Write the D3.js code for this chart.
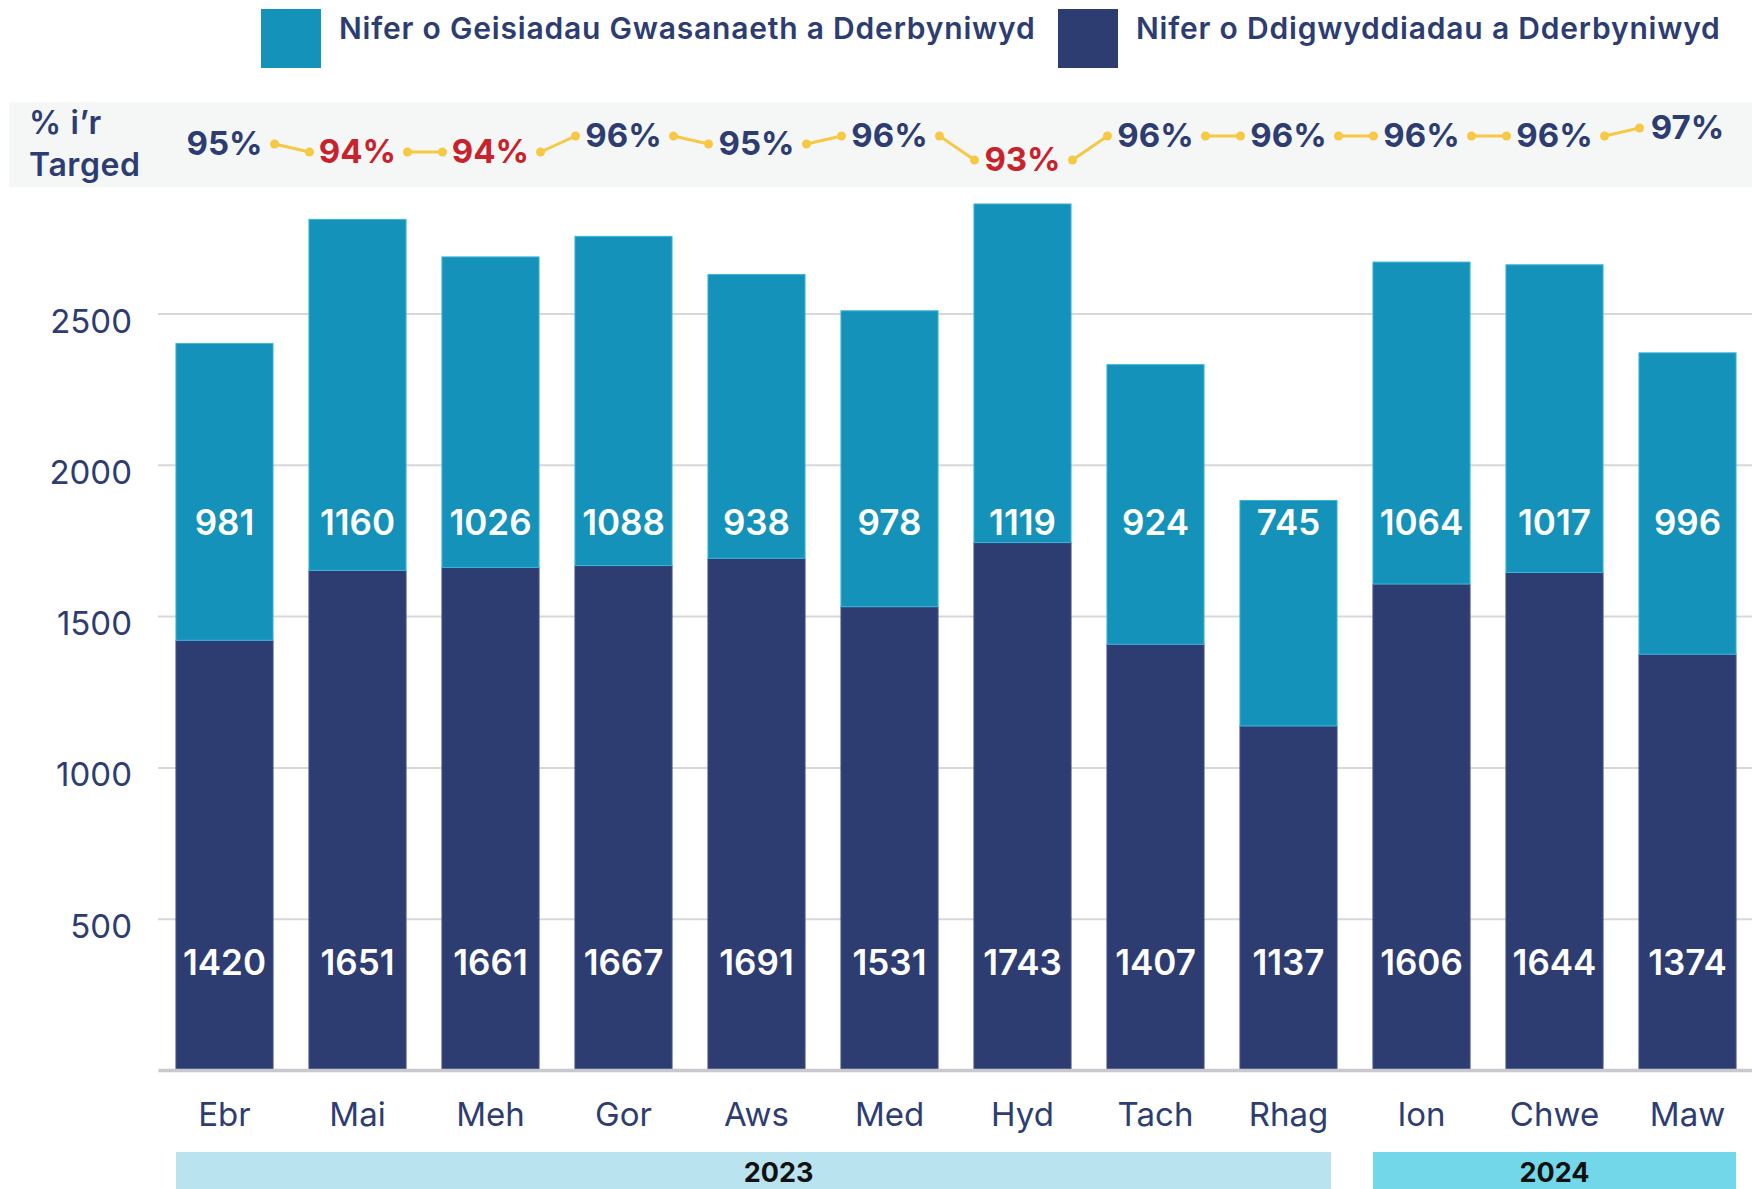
<!DOCTYPE html>
<html>
<head>
<meta charset="utf-8">
<script src="https://cdn.jsdelivr.net/npm/d3@7"></script>
<style>
  html, body { margin: 0; padding: 0; background: #ffffff; }
  svg { display: block; font-family: Inter, "Noto Sans", sans-serif; }
</style>
</head>
<body>
<svg id="chart" width="1752" height="1189"></svg>
<script>
// ---------- data ----------
const months = ["Ebr","Mai","Meh","Gor","Aws","Med","Hyd","Tach","Rhag","Ion","Chwe","Maw"];
const incidents = [1420,1651,1661,1667,1691,1531,1743,1407,1137,1606,1644,1374]; // Nifer o Ddigwyddiadau a Dderbyniwyd
const requests  = [981,1160,1026,1088,938,978,1119,924,745,1064,1017,996];        // Nifer o Geisiadau Gwasanaeth a Dderbyniwyd
const pctTarget = [95,94,94,96,95,96,93,96,96,96,96,97];
const yTicks = [500,1000,1500,2000,2500];
const years = [
  {label:"2023", from:"Ebr", to:"Rhag"},
  {label:"2024", from:"Ion", to:"Maw"}
];
const legendLabels = ["Nifer o Geisiadau Gwasanaeth a Dderbyniwyd","Nifer o Ddigwyddiadau a Dderbyniwyd"];
const pctTitle = ["% i’r","Targed"];

// ---------- style ----------
const NAVY = "#2d3d72";
const TEAL = "#1492b9";
const RED = "#c8232c";
const YELLOW = "#f6c843";

const svg = d3.select("#chart");

const x = d3.scaleBand().domain(months).range([158, 1754]).paddingInner(0.27).paddingOuter(0.135);
const y = d3.scaleLinear().domain([0, 2500]).range([1070, 313.5]);
const yPct = d3.scaleLinear().domain([93, 97]).range([159, 127]);

// ---------- legend ----------
const legendPos = [{rx:261, tx:339, c:TEAL}, {rx:1058, tx:1136, c:NAVY}];
legendLabels.forEach((lab, i) => {
  const p = legendPos[i];
  svg.append("rect").attr("x", p.rx).attr("y", 9).attr("width", 60).attr("height", 59).attr("fill", p.c);
  svg.append("text").attr("x", p.tx).attr("y", 39).attr("fill", NAVY)
    .attr("font-size", 30).attr("font-weight", 600).attr("letter-spacing", 0.8).text(lab);
});

// ---------- target band ----------
svg.append("rect").attr("x", 9).attr("y", 102).attr("width", 1743).attr("height", 85).attr("fill", "#f5f7f7");
svg.append("text").attr("x", 29).attr("y", 134).attr("fill", NAVY).attr("font-size", 32).attr("font-weight", 600).attr("letter-spacing", 0.6).text(pctTitle[0]);
svg.append("text").attr("x", 29).attr("y", 176).attr("fill", NAVY).attr("font-size", 32).attr("font-weight", 600).attr("letter-spacing", 0.6).text(pctTitle[1]);

// ---------- gridlines + y axis ----------
const yAxis = d3.axisLeft(y).tickValues(yTicks).tickFormat(d3.format("d")).tickSize(-(1752 - 158)).tickPadding(26);
const gy = svg.append("g").attr("transform", "translate(158,0)").call(yAxis);
gy.select(".domain").remove();
gy.selectAll(".tick line").attr("stroke", "#d8d8d8").attr("stroke-width", 2);
gy.selectAll(".tick text").attr("fill", NAVY).attr("font-size", 33)
  .attr("font-family", "Inter, 'Noto Sans', sans-serif").attr("y", 7).attr("dy", "0.35em");

// ---------- bars ----------
const stacked = months.map((m, i) => ({m, inc: incidents[i], req: requests[i]}));
const bars = svg.append("g");
bars.selectAll(".inc").data(stacked).join("rect")
  .attr("x", d => x(d.m)).attr("width", x.bandwidth())
  .attr("y", d => y(d.inc)).attr("height", d => y(0) - y(d.inc))
  .attr("fill", NAVY).attr("stroke", "#44558a").attr("stroke-width", 1);
bars.selectAll(".req").data(stacked).join("rect")
  .attr("x", d => x(d.m)).attr("width", x.bandwidth())
  .attr("y", d => y(d.inc + d.req)).attr("height", d => y(d.inc) - y(d.inc + d.req))
  .attr("fill", TEAL).attr("stroke", "#3db6da").attr("stroke-width", 1);

// value labels
const topLabelLevel = 1810, bottomLabelLevel = 357;
bars.selectAll(".lt").data(stacked).join("text")
  .attr("x", d => x(d.m) + x.bandwidth() / 2).attr("y", y(topLabelLevel)).attr("dy", "0.36em")
  .attr("text-anchor", "middle").attr("fill", "#fff").attr("font-size", 35).attr("font-weight", 600)
  .text(d => d.req);
bars.selectAll(".lb").data(stacked).join("text")
  .attr("x", d => x(d.m) + x.bandwidth() / 2).attr("y", y(bottomLabelLevel)).attr("dy", "0.36em")
  .attr("text-anchor", "middle").attr("fill", "#fff").attr("font-size", 35).attr("font-weight", 600)
  .text(d => d.inc);

// ---------- x axis ----------
const xAxis = d3.axisBottom(x).tickSize(0).tickSizeOuter(0).tickPadding(33);
const gx = svg.append("g").attr("transform", `translate(0,${y(0)})`).call(xAxis);
gx.select(".domain").attr("stroke", "#c9c9cd").attr("stroke-width", 3.5);
gx.selectAll(".tick text").attr("fill", NAVY).attr("font-size", 33)
  .attr("font-family", "Inter, 'Noto Sans', sans-serif");

// ---------- % target row ----------
const cx = m => x(m) + x.bandwidth() / 2;
const pg = svg.append("g");
for (let i = 0; i < months.length - 1; i++) {
  const x1 = cx(months[i]) + 50, x2 = cx(months[i + 1]) - 48;
  const y1 = yPct(pctTarget[i]) + 1, y2 = yPct(pctTarget[i + 1]) + 1;
  pg.append("line").attr("x1", x1).attr("y1", y1).attr("x2", x2).attr("y2", y2)
    .attr("stroke", YELLOW).attr("stroke-width", 3);
  pg.append("circle").attr("cx", x1).attr("cy", y1).attr("r", 4.5).attr("fill", YELLOW);
  pg.append("circle").attr("cx", x2).attr("cy", y2).attr("r", 4.5).attr("fill", YELLOW);
}
pg.selectAll("text").data(months).join("text")
  .attr("x", d => cx(d)).attr("y", (d, i) => yPct(pctTarget[i])).attr("dy", "0.36em")
  .attr("text-anchor", "middle").attr("font-size", 33).attr("font-weight", 700)
  .attr("fill", (d, i) => pctTarget[i] < 95 ? RED : NAVY)
  .text((d, i) => pctTarget[i] + "%");

// ---------- year bands ----------
const yg = svg.append("g");
years.forEach((yr, i) => {
  const x0 = x(yr.from), x1 = x(yr.to) + x.bandwidth();
  yg.append("rect").attr("x", x0).attr("y", 1152).attr("width", x1 - x0 - (i === 0 ? 6 : 0)).attr("height", 40)
    .attr("fill", i === 0 ? "#b9e3ef" : "#72d7e8");
  yg.append("text").attr("x", (x0 + x1) / 2 + (i === 0 ? 22 : 0)).attr("y", 1172).attr("dy", "0.36em")
    .attr("text-anchor", "middle").attr("font-size", 27).attr("font-weight", 700).attr("fill", "#111")
    .text(yr.label);
});
</script>
</body>
</html>
